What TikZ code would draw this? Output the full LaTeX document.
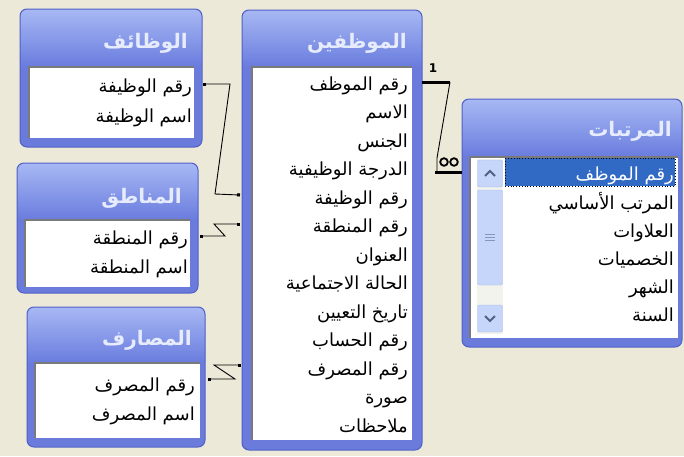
\documentclass[tikz,border=0pt]{standalone}
\usepackage{fontspec}
\setmainfont{DejaVu Sans}
\newfontfamily\arabicfont[Script=Arabic]{DejaVu Sans}
\TeXXeTstate=1
\usetikzlibrary{arrows.meta}
\definecolor{bgc}{HTML}{ECE9D8}
\definecolor{frameblue}{HTML}{6B7BDC}
\definecolor{titletop}{HTML}{A8B8F4}
\definecolor{titlebot}{HTML}{6A7DDE}
\definecolor{tableborder}{HTML}{4E5FC8}
\definecolor{titletext}{HTML}{E6ECFC}
\definecolor{sunk}{HTML}{7A7A7A}
\definecolor{hl}{HTML}{316AC5}
\definecolor{sbtn}{HTML}{C6D6FA}
\definecolor{sbtnb}{HTML}{A8BCE8}
\definecolor{chev}{HTML}{4D6185}
\definecolor{track}{HTML}{F3F3EE}
\newcommand\acctable[5]{%
  \begin{scope}
    \clip[rounded corners=7pt] (#1,#2) rectangle (#3,#4);
    \fill[frameblue] (#1,#2) rectangle (#3,#4);
    \shade[top color=titletop, bottom color=titlebot] (#1,#2) rectangle (#3,#5);
  \end{scope}
  \draw[tableborder, line width=1pt, rounded corners=7pt] (#1,#2) rectangle (#3,#4);}
\newcommand\whitearea[4]{%
  \fill[white] (#1,#2) rectangle (#3,#4);
  \draw[sunk, line width=1.5pt] (#1,#4) -- (#1,#2) -- (#3,#2);}
\tikzset{
  row/.style={anchor=base east, font=\fontsize{18}{20}\selectfont\arabicfont, inner sep=0pt, text=black},
  ttl/.style={anchor=east, font=\fontsize{20}{24}\selectfont\bfseries\arabicfont, text=titletext, inner sep=0pt},
  rel/.style={line width=0.9pt, black, {Square[length=3pt,width=3pt]}-{Square[length=3pt,width=3pt]}},
  relplain/.style={line width=0.9pt, black},
  thick1/.style={line width=3pt, black}
}
\begin{document}
\begin{tikzpicture}[x=1pt,y=-1pt]
\fill[bgc] (0,0) rectangle (684,456);
\useasboundingbox (0,0) rectangle (684,456);

% ---- الوظائف
\acctable{20}{9}{202}{147}{66}
\whitearea{29}{67}{194}{138}
\node[ttl] (tjobs) at (188,43) {\beginR الوظائف\endR};
\node[row] (j1) at (192,92) {\beginR رقم الوظيفة\endR};
\node[row] (j2) at (192,122) {\beginR اسم الوظيفة\endR};

% ---- المناطق
\acctable{17}{163}{198}{293}{219}
\whitearea{25}{220}{190}{287}
\node[ttl] (treg) at (182,198) {\beginR المناطق\endR};
\node[row] (r1) at (188,244) {\beginR رقم المنطقة\endR};
\node[row] (r2) at (188,273) {\beginR اسم المنطقة\endR};

% ---- المصارف
\acctable{27}{307}{205}{447}{362}
\whitearea{35}{363}{200}{438}
\node[ttl] (tbank) at (192,340) {\beginR المصارف\endR};
\node[row] (b1) at (195,391) {\beginR رقم المصرف\endR};
\node[row] (b2) at (195,420) {\beginR اسم المصرف\endR};

% ---- الموظفين
\acctable{242}{10}{422}{450}{66}
\whitearea{252}{67}{412}{440}
\node[ttl] (temp) at (407,43) {\beginR الموظفين\endR};
\node[row] (e1) at (408,90) {\beginR رقم الموظف\endR};
\node[row] (e2) at (408,118.5) {\beginR الاسم\endR};
\node[row] (e3) at (408,147) {\beginR الجنس\endR};
\node[row] (e4) at (408,175.5) {\beginR الدرجة الوظيفية\endR};
\node[row] (e5) at (408,204) {\beginR رقم الوظيفة\endR};
\node[row] (e6) at (408,232.5) {\beginR رقم المنطقة\endR};
\node[row] (e7) at (408,261) {\beginR العنوان\endR};
\node[row] (e8) at (408,289.5) {\beginR الحالة الاجتماعية\endR};
\node[row] (e9) at (408,318) {\beginR تاريخ التعيين\endR};
\node[row] (e10) at (408,346.5) {\beginR رقم الحساب\endR};
\node[row] (e11) at (408,375) {\beginR رقم المصرف\endR};
\node[row] (e12) at (408,403.5) {\beginR صورة\endR};
\node[row] (e13) at (408,432) {\beginR ملاحظات\endR};

% ---- المرتبات
\acctable{462}{99}{682}{347}{156}
\whitearea{470}{157}{678}{338}
\node[ttl] (tsal) at (672,131) {\beginR المرتبات\endR};
% scrollbar
\fill[track] (477,159) rectangle (503,334);
\draw[sbtnb, fill=sbtn, rounded corners=2pt] (477.5,160) rectangle (502.5,187);
\draw[chev, line width=2pt] (485,176) -- (490,171) -- (495,176);
\draw[sbtnb, fill=sbtn, rounded corners=2pt] (477.5,190) rectangle (502.5,285);
\foreach \yy in {234,237,240} \draw[sbtnb!80!black, line width=0.8pt] (485,\yy) -- (495,\yy);
\draw[sbtnb, fill=sbtn, rounded corners=2pt] (477.5,305) rectangle (502.5,332);
\draw[chev, line width=2pt] (485,316) -- (490,321) -- (495,316);
% highlighted row
\fill[hl] (505,158) rectangle (675,186);
\draw[black, dotted, line width=0.8pt] (505,158) rectangle (675,186);
\node[row, text=white] (s1) at (674,180) {\beginR رقم الموظف\endR};
\node[row] (s2) at (674,209) {\beginR المرتب الأساسي\endR};
\node[row] (s3) at (674,237) {\beginR العلاوات\endR};
\node[row] (s4) at (674,265) {\beginR الخصميات\endR};
\node[row] (s5) at (674,293) {\beginR الشهر\endR};
\node[row] (s6) at (674,321) {\beginR السنة\endR};

% ---- relationships
\coordinate (ja) at (203,84);
\coordinate (jb) at (240,195);
\draw[rel] (ja) -- (230,84) -- (215,194) -- (jb);

\coordinate (ra) at (200,236);
\coordinate (rb) at (240,224);
\draw[rel] (ra) -- (225,236) -- (214,224) -- (rb);

\coordinate (ba) at (208,379);
\coordinate (bb) at (241,365);
\draw[rel] (ba) -- (235,379) -- (214,365) -- (bb);

\coordinate (ea) at (422,82);
\coordinate (eb) at (450,82);
\coordinate (sa) at (435,172);
\coordinate (sb) at (462,172);
\draw[thick1] (ea) -- (eb);
\draw[relplain] (eb) -- (437,158) -- (437,172);
\draw[thick1] (sa) -- (sb);
\draw[line width=1.8pt] (444,162) circle (3.8);
\draw[line width=1.8pt] (454,162) circle (3.8);
\node[font=\bfseries\fontsize{12}{14}\selectfont, inner sep=0pt] (one) at (433,68) {1};
\end{tikzpicture}
\end{document}
